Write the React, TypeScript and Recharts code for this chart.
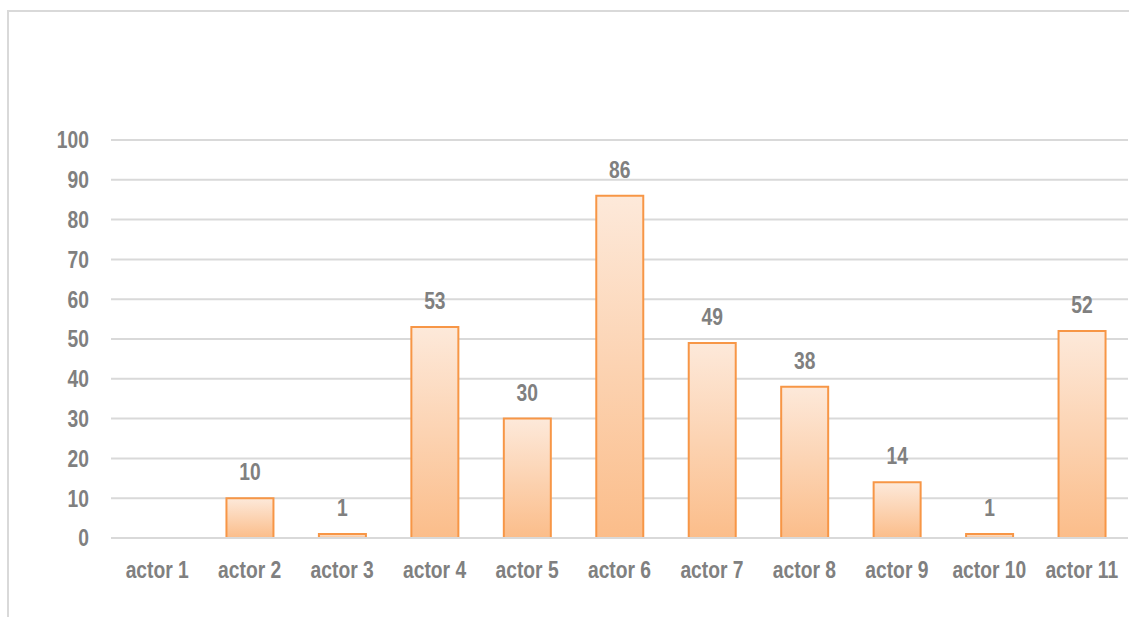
import { BarChart, Bar, XAxis, YAxis, CartesianGrid, LabelList } from "recharts";

const actors = [
  "actor 1",
  "actor 2",
  "actor 3",
  "actor 4",
  "actor 5",
  "actor 6",
  "actor 7",
  "actor 8",
  "actor 9",
  "actor 10",
  "actor 11",
];
const counts = [0, 10, 1, 53, 30, 86, 49, 38, 14, 1, 52];
const yTicks = [0, 10, 20, 30, 40, 50, 60, 70, 80, 90, 100];

const FONT = "'Liberation Sans', Arial, sans-serif";
const TEXT = "#808080";
const GRID = "#d9d9d9";
const FONT_SIZE = 23.5;
// no Arial Narrow available, so squeeze the regular bold font horizontally
const SQUEEZE = 0.82;

const data = actors.map((name, i) => ({ name, value: counts[i] }));

function NarrowText({ x, y, anchor, dy, children }: any) {
  return (
    <g transform={`translate(${x},${y}) scale(${SQUEEZE},1)`}>
      <text
        x={0}
        y={0}
        dy={dy}
        textAnchor={anchor}
        fill={TEXT}
        fontSize={FONT_SIZE}
        fontWeight="bold"
        fontFamily={FONT}
      >
        {children}
      </text>
    </g>
  );
}

const XTick = ({ x, y, payload }: any) => (
  <NarrowText x={x} y={y} anchor="middle" dy="0.71em">
    {payload.value}
  </NarrowText>
);

const YTick = ({ x, y, payload }: any) => (
  <NarrowText x={x} y={y} anchor="end" dy="0.355em">
    {payload.value}
  </NarrowText>
);

const ValueLabel = ({ x, y, width, value }: any) => {
  if (!value) return null;
  return (
    <NarrowText x={Number(x) + Number(width) / 2} y={Number(y) - 18} anchor="middle" dy={0}>
      {value}
    </NarrowText>
  );
};

export default function App() {
  return (
    <div
      style={{
        position: "fixed",
        left: 0,
        top: 0,
        width: 1129,
        height: 617,
        overflow: "hidden",
        background: "#fff",
      }}
    >
      {/* outer frame, only top and left edges are visible */}
      <div
        style={{
          position: "absolute",
          left: 7,
          top: 10,
          width: 1200,
          height: 700,
          borderLeft: `2px solid ${GRID}`,
          borderTop: `2px solid ${GRID}`,
        }}
      />
      <div style={{ position: "absolute", left: 0, top: 0 }}>
        <BarChart
          width={1129}
          height={617}
          data={data}
          margin={{ top: 140, right: 1, bottom: 0, left: 0 }}
        >
          <defs>
            <linearGradient id="barFill" x1="0" y1="0" x2="0" y2="1">
              <stop offset="0%" stopColor="#fde9da" />
              <stop offset="100%" stopColor="#fbbd8a" />
            </linearGradient>
          </defs>
          <CartesianGrid vertical={false} stroke={GRID} strokeWidth={2} />
          <XAxis
            dataKey="name"
            height={79}
            axisLine={{ stroke: GRID, strokeWidth: 2 }}
            tickLine={false}
            tickSize={0}
            tickMargin={23}
            interval={0}
            tick={<XTick />}
          />
          <YAxis
            width={111}
            domain={[0, 100]}
            ticks={yTicks}
            axisLine={false}
            tickLine={false}
            tickSize={0}
            tickMargin={22}
            tick={<YTick />}
          />
          <Bar
            dataKey="value"
            barSize={47}
            fill="url(#barFill)"
            stroke="#f79646"
            strokeWidth={2}
            isAnimationActive={false}
          >
            <LabelList dataKey="value" content={<ValueLabel />} />
          </Bar>
        </BarChart>
      </div>
    </div>
  );
}
